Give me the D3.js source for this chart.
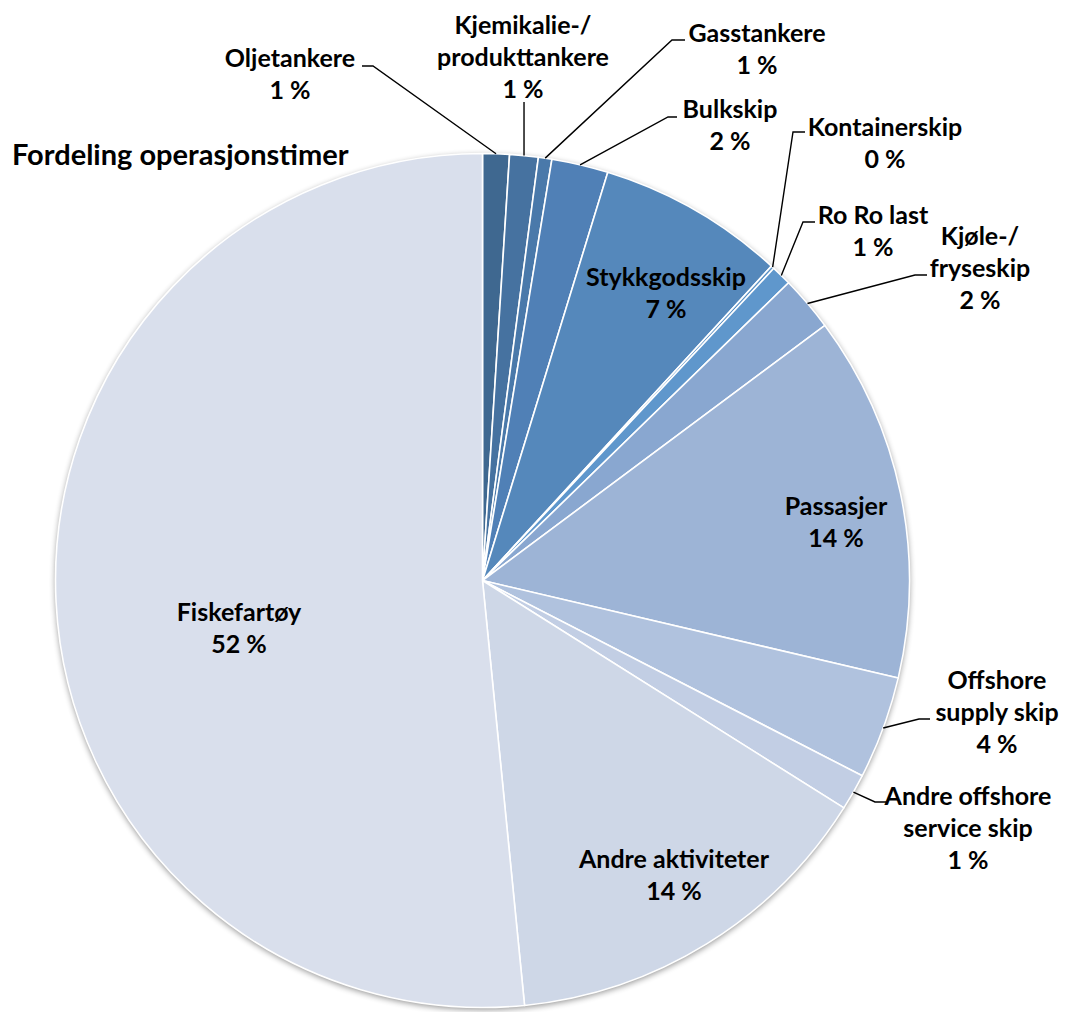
<!DOCTYPE html>
<html>
<head>
<meta charset="utf-8">
<script src="https://cdn.jsdelivr.net/npm/d3@7"></script>
<style>
  html, body { margin: 0; padding: 0; background: #fff; }
  svg { display: block; }
  text { font-family: Lato, "Open Sans", sans-serif; font-weight: 700; fill: #000; }
</style>
</head>
<body>
<svg id="chart" width="1066" height="1012"></svg>
<script>
// Share of operating hours per vessel category (percent)
const categories = [
  "Oljetankere", "Kjemikalie-/\nprodukttankere", "Gasstankere", "Bulkskip",
  "Stykkgodsskip", "Kontainerskip", "Ro Ro last", "Kjøle-/\nfryseskip",
  "Passasjer", "Offshore\nsupply skip", "Andre offshore\nservice skip",
  "Andre aktiviteter", "Fiskefartøy"
];
const shares = [1.01, 1.08, 0.51, 2.14, 7.09, 0.12, 0.77, 2.09, 13.86, 3.89, 1.38, 14.49, 51.57];
const colors = [
  "#3f6890", "#4672a0", "#4a79aa", "#5080b6", "#5588bb", "#5a90c4", "#5f97cc",
  "#89a7d0", "#9db4d6", "#b0c2de", "#c2cee4", "#ced7e7", "#d9dfec"
];
const title = "Fordeling operasjonstimer";

// Label placement: x = text centre, y = first baseline.
// Outside labels carry a leader with an optional elbow and an end point.
const labelLayout = [
  { x: 290, y: 67, elbow: [373, 66], end: [362, 66] },
  { x: 523, y: 34, elbow: null, end: [527, 102] },
  { x: 757, y: 42, elbow: [672, 40], end: [685, 40] },
  { x: 730, y: 118, elbow: [668, 117], end: [677, 117] },
  { x: 666, y: 286 },
  { x: 885, y: 136, elbow: [793, 132], end: [805, 132] },
  { x: 873, y: 224, elbow: [803, 222], end: [815, 222] },
  { x: 980, y: 245, elbow: [915, 275], end: [927, 275] },
  { x: 836, y: 515 },
  { x: 997, y: 689, elbow: [919, 719], end: [930, 719] },
  { x: 968, y: 805, elbow: [875, 802], end: [886, 802] },
  { x: 674, y: 868 },
  { x: 239, y: 621 }
];

const cx = 482.5, cy = 580.5, radius = 427;
const lineGap = 32;

const svg = d3.select("#chart");

const defs = svg.append("defs");
const shadow = defs.append("filter").attr("id", "pieShadow")
  .attr("x", "-10%").attr("y", "-10%").attr("width", "120%").attr("height", "120%");
shadow.append("feGaussianBlur").attr("in", "SourceAlpha").attr("stdDeviation", 3).attr("result", "b");
shadow.append("feOffset").attr("in", "b").attr("dx", 0).attr("dy", 2).attr("result", "o");
shadow.append("feComponentTransfer").attr("in", "o")
  .append("feFuncA").attr("type", "linear").attr("slope", 0.45);

const g = svg.append("g").attr("transform", `translate(${cx},${cy})`);

// soft shadow under the pie
g.append("circle").attr("r", radius).attr("fill", "#000").attr("filter", "url(#pieShadow)");

const pie = d3.pie().sort(null).value(d => d);
const arcs = pie(shares);
const arc = d3.arc().innerRadius(0).outerRadius(radius);

g.selectAll("path.slice")
  .data(arcs)
  .join("path")
  .attr("class", "slice")
  .attr("d", arc)
  .attr("fill", (d, i) => colors[i])
  .attr("stroke", "#fff")
  .attr("stroke-width", 1.6)
  .attr("stroke-linejoin", "round");

// leader lines from the slice rim to the outside labels
const leaders = svg.append("g")
  .attr("fill", "none").attr("stroke", "#000").attr("stroke-width", 1.4);
arcs.forEach((d, i) => {
  const L = labelLayout[i];
  if (!L.end) return;
  const a = (d.startAngle + d.endAngle) / 2;
  const px = cx + radius * Math.sin(a);
  const py = cy - radius * Math.cos(a);
  const pts = [[px, py]];
  if (L.elbow) pts.push(L.elbow);
  pts.push(L.elbow ? L.end : [px, L.end[1]]);
  leaders.append("path").attr("d", d3.line()(pts));
});

// category name + rounded percentage
const labels = svg.append("g").attr("text-anchor", "middle").attr("font-size", 25);
arcs.forEach((d, i) => {
  const L = labelLayout[i];
  const lines = categories[i].split("\n").concat([`${Math.round(shares[i])} %`]);
  const t = labels.append("text").attr("x", L.x).attr("y", L.y);
  lines.forEach((s, k) => {
    t.append("tspan").attr("x", L.x).attr("dy", k === 0 ? 0 : lineGap).text(s);
  });
});

svg.append("text")
  .attr("x", 12).attr("y", 165)
  .attr("font-size", 29)
  .text(title);
</script>
</body>
</html>
